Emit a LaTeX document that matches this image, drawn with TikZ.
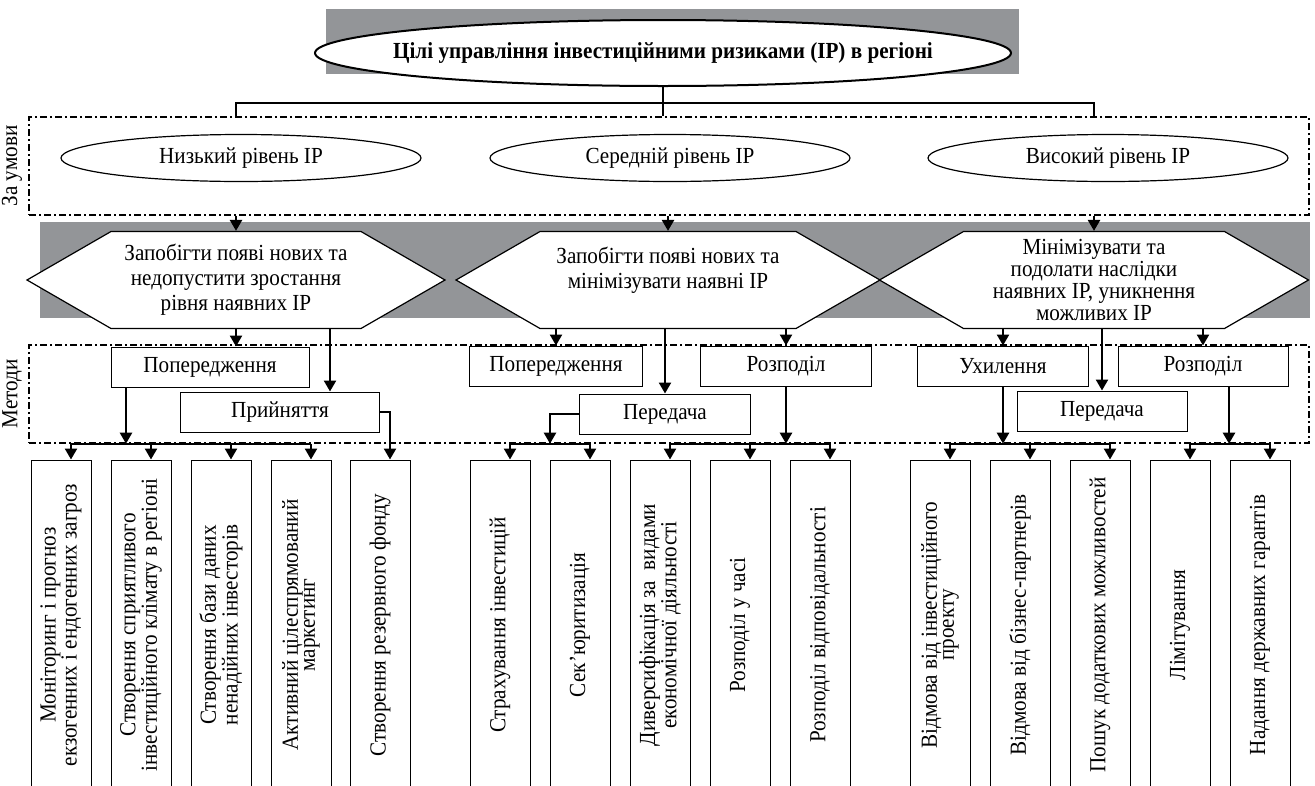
\documentclass[tikz,border=0pt]{standalone}
\usepackage{fontspec}
\setmainfont{Liberation Serif}[FakeStretch=0.92]
\usetikzlibrary{shapes.geometric,shapes.symbols,arrows.meta,positioning}
\definecolor{shadegray}{RGB}{147,149,152}

\begin{document}
\begin{tikzpicture}[x=1pt,y=-1pt,font=\fontsize{23}{25}\selectfont]
  \tikzset{>={Triangle[length=11pt,width=12pt]}}
  \tikzset{
    ell/.style={ellipse, draw, line width=1.2pt, fill=white, minimum width=360pt, minimum height=47pt},
    hexa/.style={signal, signal to=west and east, signal pointer angle=60, draw, line width=1.2pt,
      fill=white, minimum height=97pt, inner sep=0pt, align=center},
    method/.style={draw, line width=1pt, fill=white, minimum height=40pt},
    measure/.style={draw, line width=1pt, rotate=90, minimum width=330pt, minimum height=60pt,
      align=center, font=\fontsize{23}{17}\selectfont},
    frame/.style={draw, line width=1.4pt, dash pattern=on 7pt off 3pt on 2pt off 3pt,
      minimum width=1280pt, minimum height=98pt},
    link/.style={line width=1.8pt},
    bus/.style={line width=2.4pt},
    arr/.style={line width=2.4pt, ->},
  }
  \useasboundingbox (0,0) rectangle (1315,785);
  \clip (0,0) rectangle (1315,785);

  % title
  \fill[shadegray] (326,9) rectangle (1019,74);
  \node[ell, line width=2pt, minimum width=696pt, minimum height=66pt] (title) at (663,53)
    {\makebox[0pt]{\bfseries Цілі управління інвестиційними ризиками (ІР) в регіоні}};

  % conditions
  \node[frame] (cond) at (669,166) {};
  \node[rotate=90] (lcond) at (12,166) {За умови};
  \node[ell] (low) at (241,158) {Низький рівень ІР};
  \node[ell] (mid) at (670,158) {Середній рівень ІР};
  \node[ell] (high) at (1108,158) {Високий рівень ІР};

  % goals
  \fill[shadegray] (40,222) rectangle (1310,318);
  \node[hexa, minimum width=418pt] (g1) at (236,280)
    {Запобігти появі нових та\\недопустити зростання\\рівня наявних ІР};
  \node[hexa, minimum width=424pt] (g2) at (668,280)
    {Запобігти появі нових та\\мінімізувати наявні ІР\\~};
  \node[hexa, minimum width=429pt, font=\fontsize{23}{22}\selectfont] (g3) at (1094,280)
    {Мінімізувати та\\подолати наслідки\\наявних ІР, уникнення\\можливих ІР};

  % methods
  \node[frame] (meth) at (669,394) {};
  \node[rotate=90] (lmeth) at (12,394) {Методи};
  \node[method, minimum width=198pt] (pop1) at (210,367) {Попередження};
  \node[method, minimum width=199pt] (acc) at (280,412) {Прийняття};
  \node[method, minimum width=173pt] (pop2) at (556,366) {Попередження};
  \node[method, minimum width=171pt] (tr2) at (665,414) {Передача};
  \node[method, minimum width=171pt] (dis2) at (786,366) {Розподіл};
  \node[method, minimum width=171pt] (avd) at (1003,366) {Ухилення};
  \node[method, minimum width=170pt] (tr3) at (1102,411) {Передача};
  \node[method, minimum width=170pt] (dis3) at (1203,366) {Розподіл};

  % measures
  \foreach \n/\x/\t in {
      1/61/{Моніторинг і прогноз\\екзогенних і ендогенних загроз},
      2/141/{Створення сприятливого\\інвестиційного клімату в регіоні},
      3/221/{Створення бази даних\\ненадійних інвесторів},
      4/301/{Активний цілеспрямований\\маркетинг},
      5/380/{Створення резервного фонду},
      6/500/{Страхування інвестицій},
      7/580/{Сек’юритизація},
      8/660/{Диверсифікація за~ видами\\економічної діяльності},
      9/740/{Розподіл у часі},
      10/820/{Розподіл відповідальності},
      11/940/{Відмова від інвестиційного\\проекту},
      12/1020/{Відмова від бізнес-партнерів},
      13/1100/{Пошук додаткових можливостей},
      14/1180/{Лімітування},
      15/1260/{Надання державних гарантів}} {
    \node[measure] (m\n) at (\x,625) {\t};
    \coordinate (in\n) at ([xshift=10pt]m\n.east);
  }

  % title to conditions
  \coordinate (split) at ([yshift=-16pt]title.south);
  \draw[link] (title.south) -- (title.south |- cond.north);
  \draw[link] (g1.north |- cond.north) |- (split) -| (g3.north |- cond.north);

  % conditions to goals
  \foreach \g in {g1,g2,g3}
    \draw[arr] (\g.north |- cond.south) -- (\g.north);

  % goals to methods
  \coordinate (k1) at ([xshift=50pt]acc.north);
  \draw[arr] (g1.south) -- (g1.south |- pop1.north);
  \draw[arr] (k1 |- g1.south) -- (k1);
  \draw[arr] (pop2.north |- g2.south) -- (pop2.north);
  \draw[arr] (tr2.north |- g2.south) -- (tr2.north);
  \draw[arr] (dis2.north |- g2.south) -- (dis2.north);
  \draw[arr] (avd.north |- g3.south) -- (avd.north);
  \draw[arr] (tr3.north |- g3.south) -- (tr3.north);
  \draw[arr] (dis3.north |- g3.south) -- (dis3.north);

  % methods to measures
  \coordinate (j1) at ([xshift=-84pt]pop1.south);
  \draw[arr] (j1) -- (j1 |- meth.south);
  \draw[bus] (in1 |- meth.south) -- (in4 |- meth.south);
  \draw[arr] (acc.east) -| (in5);
  \coordinate (j2) at ([xshift=-29pt]tr2.west);
  \draw[arr] (tr2.west) -- (j2) -- (j2 |- meth.south);
  \draw[bus] (in6 |- meth.south) -- (in7 |- meth.south);
  \draw[arr] (dis2.south) -- (dis2.south |- meth.south);
  \draw[bus] (in8 |- meth.south) -- (in10 |- meth.south);
  \draw[arr] (avd.south) -- (avd.south |- meth.south);
  \draw[bus] (in11 |- meth.south) -- (in13 |- meth.south);
  \coordinate (j3) at ([xshift=26pt]dis3.south);
  \draw[arr] (j3) -- (j3 |- meth.south);
  \draw[bus] (in14 |- meth.south) -- (in15 |- meth.south);
  \foreach \n in {1,2,3,4,6,7,8,9,10,11,12,13,14,15}
    \draw[arr] (in\n |- meth.south) -- (in\n);
\end{tikzpicture}
\end{document}
